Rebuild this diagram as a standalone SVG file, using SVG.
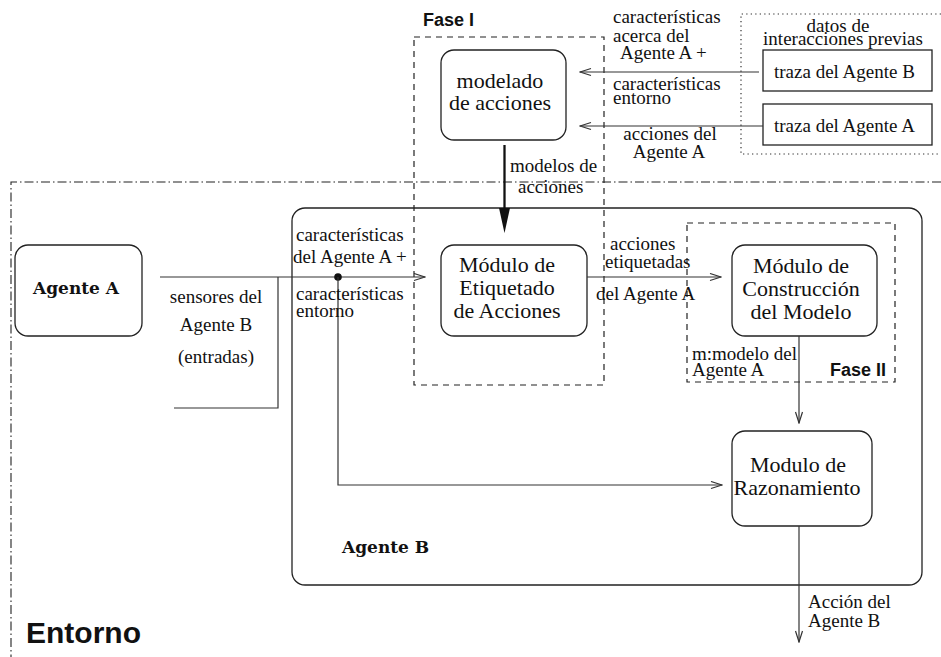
<svg xmlns="http://www.w3.org/2000/svg" width="941" height="657" viewBox="0 0 941 657">
  <style>
    .box { fill: #fff; stroke: #222; stroke-width: 1.3; }
    .plain { fill: none; stroke: #222; stroke-width: 1.3; }
    .wire { fill: none; stroke: #333; stroke-width: 1.2; }
    .phase-frame { fill: none; stroke: #222; stroke-width: 1.2; stroke-dasharray: 6 5; }
    .env-frame { fill: none; stroke: #222; stroke-width: 1.1; stroke-dasharray: 9 3 1.5 3; }
    .data-frame { fill: none; stroke: #333; stroke-width: 1.2; stroke-dasharray: 1.3 3.2; }
    text { fill: #111; }
    .lbl { font-family: "Liberation Serif", "Times New Roman", serif; font-size: 19px; }
    .mod { font-family: "Liberation Serif", "Times New Roman", serif; font-size: 22px; text-anchor: middle; }
    .agent { font-family: "DejaVu Serif", serif; font-weight: bold; font-size: 17px; }
    .phase { font-family: "Liberation Sans", Arial, sans-serif; font-weight: bold; font-size: 18px; }
    .env { font-family: "Liberation Sans", Arial, sans-serif; font-weight: bold; font-size: 30px; }
    .mid { text-anchor: middle; }
  </style>
  <defs>
    <marker id="open" markerWidth="13" markerHeight="10" refX="12" refY="4.5" orient="auto" markerUnits="userSpaceOnUse">
      <path d="M1,1 L12,4.5 L1,8" fill="none" stroke="#333" stroke-width="1.2"/>
    </marker>
  </defs>

  <!-- environment frame (dash-dot) -->
  <path class="env-frame" d="M941,182 H11 V657"/>
  <text class="env" x="26" y="643">Entorno</text>

  <!-- record of earlier interactions (dotted) -->
  <g id="datos-previos">
    <path class="data-frame" d="M941,14 H741 V154 H941"/>
    <text class="lbl mid" x="838" y="32">datos de</text>
    <text class="lbl mid" x="843" y="45">interacciones previas</text>
  </g>
  <g id="traza-b">
    <rect class="box" x="763" y="50" width="169" height="41"/>
    <text class="lbl" x="774" y="78">traza del Agente B</text>
  </g>
  <g id="traza-a">
    <rect class="box" x="763" y="104" width="169" height="41"/>
    <text class="lbl" x="774" y="132">traza del Agente A</text>
  </g>

  <!-- agent B container -->
  <g id="agente-b">
    <rect class="plain" x="292" y="208" width="630" height="377" rx="13"/>
    <text class="agent" x="342" y="553">Agente B</text>
  </g>

  <!-- phase I -->
  <g id="fase-1">
    <rect class="phase-frame" x="414" y="37" width="190" height="348"/>
    <text class="phase" x="423" y="26">Fase I</text>
  </g>
  <!-- phase II -->
  <g id="fase-2">
    <rect class="phase-frame" x="687" y="223" width="208" height="159"/>
    <text class="phase" x="830" y="376">Fase II</text>
  </g>

  <g id="modelado">
    <rect class="box" x="441" y="50" width="125" height="90" rx="13"/>
    <text class="mod" x="500" y="88">modelado</text>
    <text class="mod" x="500" y="110">de acciones</text>
  </g>

  <g id="agente-a">
    <rect class="box" x="15" y="245" width="127" height="91" rx="13"/>
    <text class="agent" x="33" y="294">Agente A</text>
  </g>

  <g id="etiquetado">
    <rect class="box" x="441" y="245" width="146" height="91" rx="13"/>
    <text class="mod" x="507" y="272">Módulo de</text>
    <text class="mod" x="507" y="295">Etiquetado</text>
    <text class="mod" x="507" y="318">de Acciones</text>
  </g>

  <g id="construccion">
    <rect class="box" x="732" y="245" width="145" height="91" rx="13"/>
    <text class="mod" x="801" y="273">Módulo de</text>
    <text class="mod" x="801" y="296">Construcción</text>
    <text class="mod" x="801" y="319">del Modelo</text>
  </g>

  <g id="razonamiento">
    <rect class="box" x="732" y="431" width="140" height="95" rx="13"/>
    <text class="mod" x="798" y="472">Modulo de</text>
    <text class="mod" x="797" y="495">Razonamiento</text>
  </g>

  <!-- connectors -->
  <g id="connectors">
    <path class="wire" d="M759,72 H580" marker-end="url(#open)"/>
    <path class="wire" d="M763,126 H580" marker-end="url(#open)"/>
    <path d="M504.5,145 V210" fill="none" stroke="#111" stroke-width="2.3"/>
    <polygon points="499,208 510,208 504.5,233" fill="#111"/>
    <path class="wire" d="M160,277 H425" marker-end="url(#open)"/>
    <path class="wire" d="M278,277 V408 H174"/>
    <circle cx="338" cy="277" r="3.8" fill="#111"/>
    <path class="wire" d="M338,277 V485 H722" marker-end="url(#open)"/>
    <path class="wire" d="M587,277 H721" marker-end="url(#open)"/>
    <path class="wire" d="M799,336 V423" marker-end="url(#open)"/>
    <path class="wire" d="M799,526 V642" marker-end="url(#open)"/>
  </g>

  <!-- connector labels -->
  <g id="labels">
    <text class="lbl" x="613" y="23">características</text>
    <text class="lbl" x="613" y="42">acerca del</text>
    <text class="lbl" x="620" y="59">Agente A +</text>
    <text class="lbl" x="613" y="90">características</text>
    <text class="lbl" x="613" y="104">entorno</text>
    <text class="lbl mid" x="670" y="140">acciones del</text>
    <text class="lbl mid" x="669" y="158">Agente A</text>
    <text class="lbl" x="510" y="172">modelos de</text>
    <text class="lbl" x="518" y="193">acciones</text>
    <text class="lbl" x="296" y="241">características</text>
    <text class="lbl" x="293" y="263">del Agente A +</text>
    <text class="lbl" x="296" y="300">características</text>
    <text class="lbl" x="296" y="317">entorno</text>
    <text class="lbl mid" x="216" y="303">sensores del</text>
    <text class="lbl mid" x="216" y="331">Agente B</text>
    <text class="lbl mid" x="216" y="363">(entradas)</text>
    <text class="lbl" x="610" y="250">acciones</text>
    <text class="lbl" x="605" y="268">etiquetadas</text>
    <text class="lbl" x="596" y="300">del Agente A</text>
    <text class="lbl" x="692" y="360">m:modelo del</text>
    <text class="lbl" x="692" y="376">Agente A</text>
    <text class="lbl" x="808" y="608">Acción del</text>
    <text class="lbl" x="808" y="627">Agente B</text>
  </g>
</svg>
